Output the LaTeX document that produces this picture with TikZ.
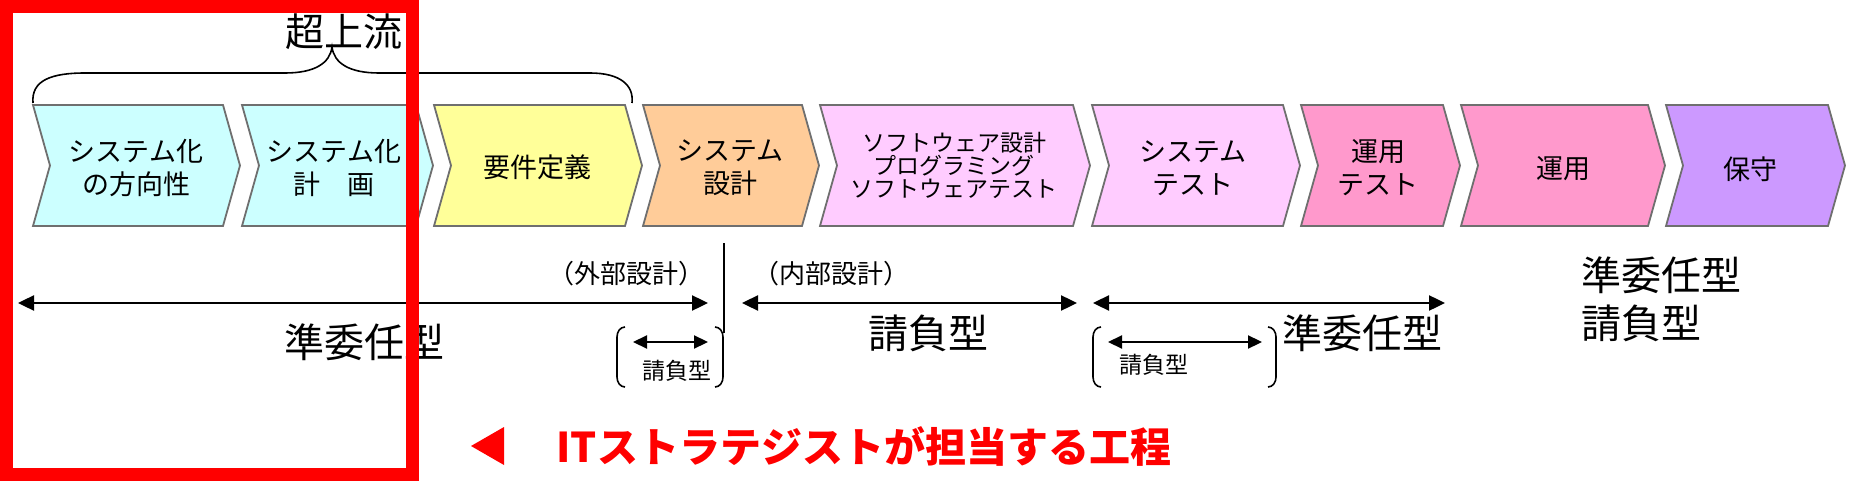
\documentclass[tikz,border=0pt]{standalone}
\usepackage{fontspec}
\setmainfont{Noto Sans CJK JP}
\usetikzlibrary{arrows.meta}
\definecolor{plancyan}{HTML}{CCFFFF}
\definecolor{reqyellow}{HTML}{FFFF99}
\definecolor{syspeach}{HTML}{FFCC99}
\definecolor{devpink}{HTML}{FFCCFF}
\definecolor{oppink}{HTML}{FF99CC}
\definecolor{mntviolet}{HTML}{CC99FF}
\definecolor{chevline}{HTML}{6F6F6F}

\begin{document}
\begin{tikzpicture}[x=1pt,y=-1pt,
  chev/.style={draw=chevline,line width=1.8pt},
  lbl/.style={align=center,font=\fontsize{27}{33}\selectfont},
  big/.style={font=\fontsize{40}{48}\selectfont},
  mid/.style={font=\fontsize{26}{30}\selectfont},
  small/.style={font=\fontsize{23}{26}\selectfont},
  dim/.style={draw,line width=2.4pt,{Triangle[length=16pt,width=15pt]}-{Triangle[length=16pt,width=15pt]}},
  sdim/.style={draw,line width=2.2pt,{Triangle[length=14pt,width=13pt]}-{Triangle[length=14pt,width=13pt]}},
  paren/.style={draw,line width=1.6pt}]
\useasboundingbox (0,0) rectangle (1860,492);

\path[chev,fill=plancyan] (33,105) -- (223,105) -- (240,165.5) -- (223,226) -- (33,226) -- (50,165.5) -- cycle;
\path[chev,fill=plancyan] (242,105) -- (416,105) -- (433,165.5) -- (416,226) -- (242,226) -- (259,165.5) -- cycle;
\path[chev,fill=reqyellow] (434,105) -- (625,105) -- (642,165.5) -- (625,226) -- (434,226) -- (451,165.5) -- cycle;
\path[chev,fill=syspeach] (643,105) -- (802,105) -- (819,165.5) -- (802,226) -- (643,226) -- (660,165.5) -- cycle;
\path[chev,fill=devpink] (820,105) -- (1073,105) -- (1090,165.5) -- (1073,226) -- (820,226) -- (837,165.5) -- cycle;
\path[chev,fill=devpink] (1092,105) -- (1283,105) -- (1300,165.5) -- (1283,226) -- (1092,226) -- (1109,165.5) -- cycle;
\path[chev,fill=oppink] (1301,105) -- (1443,105) -- (1460,165.5) -- (1443,226) -- (1301,226) -- (1318,165.5) -- cycle;
\path[chev,fill=oppink] (1461,105) -- (1648,105) -- (1665,165.5) -- (1648,226) -- (1461,226) -- (1478,165.5) -- cycle;
\path[chev,fill=mntviolet] (1666,105) -- (1828,105) -- (1845,165.5) -- (1828,226) -- (1666,226) -- (1683,165.5) -- cycle;

\node[lbl] (c1) at (136,168) {システム化\\の方向性};
\node[lbl] (c2) at (334,168) {システム化\\計　画};
\node[lbl] (c3) at (537,167) {要件定義};
\node[lbl] (c4) at (730,168) {システム\\設計};
\node[lbl,font=\fontsize{23}{23}\selectfont] (c5) at (954,165) {ソフトウェア設計\\プログラミング\\ソフトウェアテスト};
\node[lbl] (c6) at (1193,168) {システム\\テスト};
\node[lbl] (c7) at (1378,168) {運用\\テスト};
\node[lbl] (c8) at (1563,169) {運用};
\node[lbl] (c9) at (1750,169) {保守};

% brace over the upstream phases
\node[font=\fontsize{39}{44}\selectfont] (up) at (344,32) {超上流};
\coordinate (bl) at (33,103);
\coordinate (bt) at (332,47);
\coordinate (br) at (632,103);
\path[draw,line width=1.6pt] (bl) .. controls (31,80) and (52,73) .. (85,73) -- (285,73) .. controls (315,73) and (330,63) .. (bt) .. controls (334,63) and (349,73) .. (379,73) -- (590,73) .. controls (620,73) and (634,85) .. (br);

% contract types
\coordinate (a1) at (18,303);
\coordinate (a2) at (708,303);
\coordinate (b1) at (742,303);
\coordinate (b2) at (1077,303);
\coordinate (d1) at (1093,303);
\coordinate (d2) at (1445,303);
\coordinate (vt) at (724,243);
\coordinate (vb) at (724,333);
\path[dim] (a1) -- (a2);
\path[dim] (b1) -- (b2);
\path[dim] (d1) -- (d2);
\path[draw,line width=1.5pt] (vt) -- (vb);

\node[mid] (ext) at (626,274) {（外部設計）};
\node[mid] (int) at (831,274) {（内部設計）};
\node[big] (jy1) at (364,342) {準委任型};
\node[big] (uo1) at (928,333) {請負型};
\node[big] (jy2) at (1362,333) {準委任型};
\node[big,anchor=west] (jy3) at (1578,275) {準委任型};
\node[big,anchor=west] (uo4) at (1578,323) {請負型};

% small brackets
\coordinate (s1) at (633,342);
\coordinate (s2) at (708,342);
\coordinate (t1) at (1108,342);
\coordinate (t2) at (1262,342);
\path[sdim] (s1) -- (s2);
\path[sdim] (t1) -- (t2);
\node[small] (uo2) at (677,371) {請負型};
\node[small] (uo3) at (1154,365) {請負型};
\path[paren] (625,327) to[out=180,in=90] (617,337) -- (617,377) to[out=-90,in=180] (625,387);
\path[paren] (715,327) to[out=0,in=90] (723,337) -- (723,377) to[out=-90,in=0] (715,387);
\path[paren] (1101,327) to[out=180,in=90] (1093,337) -- (1093,377) to[out=-90,in=180] (1101,387);
\path[paren] (1268,327) to[out=0,in=90] (1276,337) -- (1276,377) to[out=-90,in=0] (1268,387);

% IT strategist range
\path[fill=red] (471,446) -- (504,427) -- (504,465) -- cycle;
\node[anchor=west,text=red,font=\fontsize{41}{44}\selectfont\bfseries] (its) at (553,446) {ITストラテジストが担当する工程};
\path[draw=red,line width=13pt] (6.5,6.5) rectangle (412.5,474.5);

\end{tikzpicture}
\end{document}
